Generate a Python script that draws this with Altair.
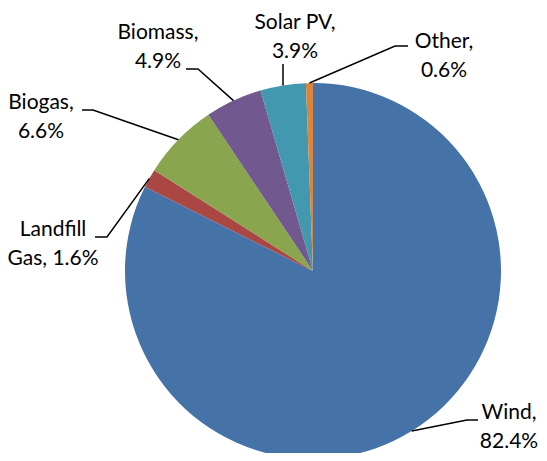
import math
import altair as alt
import pandas as pd

# ---- data ----
categories = ["Wind", "Landfill Gas", "Biogas", "Biomass", "Solar PV", "Other"]
values = [82.4, 1.6, 6.6, 4.9, 3.9, 0.6]
label_line1 = ["Wind,", "Landfill", "Biogas,", "Biomass,", "Solar PV,", "Other,"]
label_line2 = ["82.4%", "Gas, 1.6%", "6.6%", "4.9%", "3.9%", "0.6%"]
colors = ["#4572A7", "#AA4643", "#89A54E", "#71588F", "#4198AF", "#DB843D"]

# ---- layout (chart-pixel coordinates, page minus 8px margin) ----
W, H = 531, 445
CX, CY, R = 305, 263, 188
FONT = "Lato"
FS = 21
LINE_H = 29
# label block: (center x, first-line center y)
label_pos = {
    "Wind": (501, 405),
    "Landfill Gas": (45, 222),
    "Biogas": (33, 95),
    "Biomass": (150, 25),
    "Solar PV": (287, 15),
    "Other": (436, 34),
}
# leader line extra points after the slice edge point
leader_pts = {
    "Wind": [(459, 412), (470, 412)],
    "Landfill Gas": [(99, 229), (87, 229)],
    "Biogas": [(85, 102), (74, 102)],
    "Biomass": [(190, 61), (178, 61)],
    "Solar PV": [(None, 56)],
    "Other": [(387, 38), (400, 38)],
}

df = pd.DataFrame({"category": categories, "value": values, "order": list(range(len(categories)))})

# leader lines, starting at the slice mid-angle on the pie edge
rows = []
total = sum(values)
cum = 0.0
for cat, v in zip(categories, values):
    mid = (cum + v / 2) / total * 2 * math.pi
    cum += v
    ex = CX + R * math.sin(mid)
    ey = CY - R * math.cos(mid)
    rows.append({"category": cat, "i": 0, "x": ex, "y": ey})
    for k, (px, py) in enumerate(leader_pts[cat], start=1):
        rows.append({"category": cat, "i": k, "x": ex if px is None else px, "y": py})
lines_df = pd.DataFrame(rows)

trows = []
for cat, l1, l2 in zip(categories, label_line1, label_line2):
    lx, ly = label_pos[cat]
    trows.append({"category": cat, "text": l1, "x": lx, "y": ly})
    trows.append({"category": cat, "text": l2, "x": lx, "y": ly + LINE_H})
text_df = pd.DataFrame(trows)

xs = alt.Scale(domain=[0, W], range=[0, W])
ys = alt.Scale(domain=[0, H], range=[0, H])

pie = alt.Chart(df).mark_arc(outerRadius=R).encode(
    theta=alt.Theta("value:Q", stack=True),
    order=alt.Order("order:Q"),
    color=alt.Color("category:N", scale=alt.Scale(domain=categories, range=colors), legend=None),
    x=alt.value(CX),
    y=alt.value(CY),
)

leaders = alt.Chart(lines_df).mark_line(color="black", strokeWidth=1.5).encode(
    x=alt.X("x:Q", scale=xs, axis=None),
    y=alt.Y("y:Q", scale=ys, axis=None),
    detail="category:N",
    order="i:Q",
)

labels = alt.Chart(text_df).mark_text(
    font=FONT, fontSize=FS, color="black", align="center", baseline="middle"
).encode(
    x=alt.X("x:Q", scale=xs, axis=None),
    y=alt.Y("y:Q", scale=ys, axis=None),
    text="text:N",
)

chart = alt.layer(pie, leaders, labels).resolve_scale(color="independent").properties(
    width=W, height=H, padding=0, autosize=alt.AutoSizeParams(type="none")
).configure_view(stroke=None)

chart.save("out.html", embed_options={"renderer": "svg", "actions": False})
